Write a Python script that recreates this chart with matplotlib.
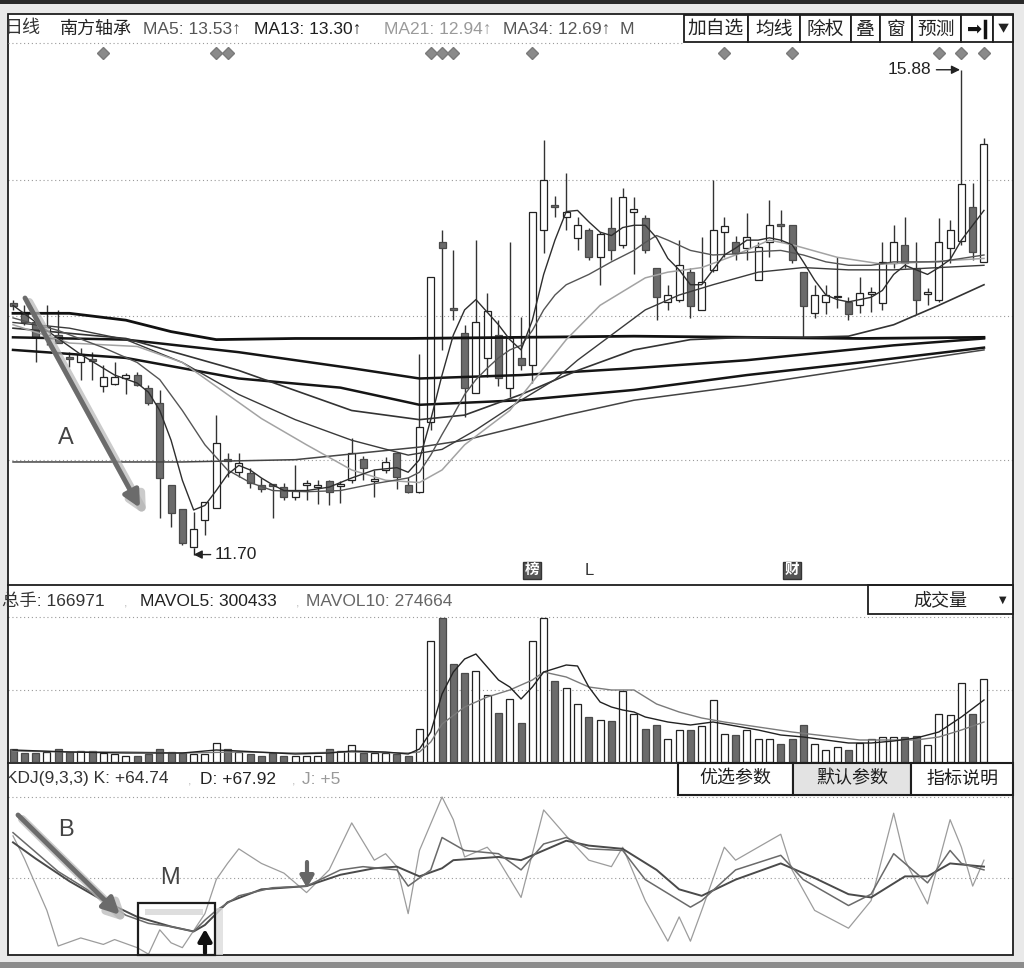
import numpy as np
import matplotlib.pyplot as plt
from matplotlib.patches import Rectangle
import matplotlib.patheffects as pe
import matplotlib.transforms as mtrans

plt.rcParams['font.family'] = ['Liberation Sans', 'Noto Sans CJK SC', 'DejaVu Sans']

W, H = 1024, 968

# daily candles (price, yuan)
opens = [13.84, 13.76, 13.67, 13.56, 13.56, 13.37, 13.32, 13.35, 13.11, 13.13,
         13.18, 13.21, 13.10, 12.97, 12.25, 12.04, 11.71, 11.94, 12.05, 12.48,
         12.36, 12.35, 12.25, 12.26, 12.23, 12.14, 12.25, 12.23, 12.28, 12.24,
         12.29, 12.48, 12.28, 12.38, 12.53, 12.25, 12.19, 12.80, 14.37, 13.80,
         13.58, 13.05, 13.36, 13.56, 13.10, 13.36, 13.30, 14.48, 14.70, 14.59,
         14.41, 14.48, 14.24, 14.50, 14.35, 14.64, 14.58, 14.15, 13.85, 13.87,
         14.11, 13.78, 14.13, 14.46, 14.37, 14.32, 14.04, 14.37, 14.53, 14.52,
         14.11, 13.75, 13.85, 13.89, 13.85, 13.82, 13.92, 13.84, 14.19, 14.35,
         14.15, 13.92, 13.87, 14.32, 14.38, 14.68, 14.20]
highs = [13.87, 13.82, 13.71, 13.82, 13.78, 13.41, 13.45, 13.41, 13.30, 13.32,
         13.23, 13.24, 13.12, 13.08, 12.25, 12.04, 12.01, 12.10, 12.86, 12.53,
         12.53, 12.40, 12.31, 12.26, 12.27, 12.42, 12.29, 12.29, 12.29, 12.28,
         12.66, 12.50, 12.38, 12.49, 12.53, 12.32, 13.39, 14.07, 14.48, 14.30,
         13.65, 14.39, 13.93, 13.69, 14.37, 13.72, 14.64, 15.27, 14.78, 14.98,
         14.59, 14.50, 14.46, 14.77, 14.85, 14.77, 14.61, 14.15, 14.00, 14.39,
         14.15, 14.42, 14.92, 14.59, 14.43, 14.63, 14.37, 14.74, 14.65, 14.52,
         14.11, 14.00, 14.00, 14.24, 13.89, 14.07, 13.98, 14.37, 14.52, 14.59,
         14.37, 13.97, 14.58, 14.57, 15.88, 14.89, 15.28]
lows = [13.78, 13.65, 13.32, 13.47, 13.49, 13.28, 13.17, 13.17, 13.06, 13.12,
        13.04, 13.11, 12.95, 11.96, 11.88, 11.72, 11.70, 11.81, 12.05, 12.32,
        12.32, 12.22, 12.19, 11.96, 12.12, 12.12, 12.12, 12.08, 12.07, 12.09,
        12.27, 12.29, 12.14, 12.35, 12.21, 12.18, 12.18, 12.73, 13.43, 13.69,
        12.84, 13.05, 13.19, 13.11, 13.02, 13.25, 13.14, 14.28, 14.59, 14.48,
        14.30, 14.22, 14.00, 14.22, 14.32, 14.09, 14.28, 13.69, 13.78, 13.85,
        13.71, 13.78, 14.11, 14.24, 14.22, 14.22, 14.04, 14.24, 14.37, 14.19,
        13.54, 13.71, 13.74, 13.80, 13.69, 13.75, 13.76, 13.78, 14.15, 14.15,
        13.74, 13.82, 13.85, 14.19, 14.35, 14.22, 14.20]
closes = [13.81, 13.67, 13.54, 13.63, 13.49, 13.35, 13.39, 13.33, 13.19, 13.19,
          13.21, 13.12, 12.97, 12.31, 12.00, 11.74, 11.86, 12.10, 12.62, 12.46,
          12.44, 12.27, 12.21, 12.24, 12.14, 12.20, 12.27, 12.25, 12.19, 12.26,
          12.53, 12.40, 12.30, 12.45, 12.32, 12.19, 12.76, 14.07, 14.32, 13.78,
          13.10, 13.67, 13.77, 13.18, 13.53, 13.30, 14.64, 14.92, 14.68, 14.64,
          14.52, 14.24, 14.44, 14.30, 14.77, 14.66, 14.30, 13.89, 13.91, 14.17,
          13.81, 14.02, 14.48, 14.51, 14.28, 14.42, 14.33, 14.52, 14.51, 14.22,
          13.81, 13.91, 13.91, 13.90, 13.74, 13.93, 13.94, 14.20, 14.37, 14.19,
          13.87, 13.94, 14.37, 14.48, 14.88, 14.29, 15.23]

# volume (hands)
volume = [26000, 18000, 18000, 20000, 26000, 20000, 22000, 22000, 18000, 16000,
          12000, 12000, 16000, 26000, 20000, 18000, 16000, 16000, 38000, 26000,
          20000, 16000, 12000, 18000, 12000, 12000, 12000, 12000, 26000, 22000,
          34000, 18000, 18000, 18000, 16000, 12000, 66000, 242000, 288000, 196000,
          178000, 182000, 134000, 98000, 126000, 78000, 242000, 288000, 162000, 148000,
          116000, 90000, 84000, 82000, 142000, 96000, 66000, 74000, 46000, 64000,
          64000, 72000, 124000, 56000, 54000, 64000, 46000, 46000, 36000, 46000,
          74000, 36000, 24000, 30000, 24000, 38000, 46000, 50000, 50000, 50000,
          52000, 34000, 96000, 94000, 158000, 96000, 166971]

# moving average lines: (candle index, value)
ma5_idx = [0, 3, 6, 9, 11, 12, 13, 14, 15, 16, 17, 18, 19, 20, 21, 22, 23, 24, 26, 28,
           30, 32, 34, 35, 36, 37, 38, 39, 40, 41, 42, 43, 44, 45, 46, 47, 48, 49, 50, 51,
           52, 53, 54, 55, 56, 57, 58, 59, 60, 61, 62, 63, 64, 65, 66, 67, 68, 69, 70, 71,
           72, 73, 74, 75, 76, 77, 78, 79, 80, 81, 82, 83, 84, 85, 86]
ma5_val = [13.82, 13.60, 13.39, 13.21, 13.14, 13.06, 12.90, 12.64, 12.29, 12.03,
           12.07, 12.20, 12.34, 12.42, 12.38, 12.31, 12.25, 12.20, 12.20, 12.23,
           12.31, 12.38, 12.40, 12.36, 12.47, 12.82, 13.21, 13.56, 13.78, 13.87,
           13.76, 13.65, 13.52, 13.43, 13.69, 14.09, 14.39, 14.64, 14.65, 14.55,
           14.46, 14.43, 14.50, 14.52, 14.52, 14.41, 14.23, 14.13, 14.00, 14.00,
           14.13, 14.26, 14.32, 14.39, 14.39, 14.41, 14.39, 14.35, 14.20, 14.04,
           13.91, 13.87, 13.85, 13.87, 13.89, 13.95, 14.09, 14.17, 14.13, 14.09,
           14.15, 14.22, 14.39, 14.52, 14.65]
ma13_idx = [0, 4, 8, 11, 13, 15, 17, 19, 21, 23, 26, 29, 32, 35, 36, 37, 38, 39, 40, 41,
            42, 43, 44, 45, 46, 47, 48, 49, 51, 53, 55, 56, 57, 58, 60, 62, 64, 66, 68, 70,
            72, 74, 76, 78, 80, 82, 84, 86]
ma13_val = [13.71, 13.60, 13.45, 13.32, 13.17, 12.90, 12.60, 12.38, 12.27, 12.20,
            12.19, 12.20, 12.26, 12.31, 12.36, 12.51, 12.69, 12.86, 13.04, 13.17,
            13.27, 13.36, 13.43, 13.47, 13.60, 13.78, 13.91, 14.00, 14.09, 14.20,
            14.30, 14.37, 14.43, 14.39, 14.30, 14.26, 14.27, 14.29, 14.30, 14.26,
            14.20, 14.17, 14.17, 14.20, 14.20, 14.20, 14.23, 14.26]
ma21_idx = [0, 5, 11, 15, 19, 22, 26, 30, 33, 36, 38, 40, 44, 49, 52, 56, 58, 61, 64, 67,
            69, 73, 77, 81, 86]
ma21_val = [13.65, 13.49, 13.46, 13.32, 13.04, 12.83, 12.60, 12.38, 12.29, 12.27,
            12.38, 12.60, 12.90, 13.52, 13.82, 14.06, 14.11, 14.15, 14.26, 14.39,
            14.35, 14.24, 14.18, 14.20, 14.23]
ma34_idx = [0, 5, 10, 15, 20, 25, 30, 35, 38, 41, 45, 48, 50, 53, 56, 59, 62, 66, 70, 74,
            78, 82, 86]
ma34_val = [13.67, 13.62, 13.52, 13.32, 13.04, 12.82, 12.64, 12.51, 12.56, 12.73,
            12.99, 13.17, 13.34, 13.56, 13.78, 13.91, 14.00, 14.11, 14.15, 14.13,
            14.13, 14.15, 14.17]
ma55_idx = [0, 10, 20, 30, 36, 40, 45, 50, 55, 60, 65, 70, 74, 78, 82, 86]
ma55_val = [13.62, 13.53, 13.25, 12.90, 12.82, 12.86, 13.04, 13.25, 13.43, 13.52,
            13.54, 13.54, 13.55, 13.65, 13.82, 14.00]
ma89_idx = [0, 5, 10, 14, 18, 25, 35, 45, 55, 65, 75, 86]
ma89_val = [13.75, 13.75, 13.69, 13.59, 13.52, 13.53, 13.53, 13.54, 13.55, 13.54, 13.53, 13.54]
ma120_idx = [0, 15, 25, 29, 36, 40, 49, 55, 65, 75, 86]
ma120_val = [12.45, 12.45, 12.47, 12.51, 12.58, 12.64, 12.86, 12.99, 13.12, 13.27, 13.43]
ma144_idx = [0, 10, 20, 30, 36, 45, 55, 65, 70, 78, 86]
ma144_val = [13.54, 13.52, 13.41, 13.27, 13.18, 13.21, 13.27, 13.34, 13.39, 13.47, 13.53]
ma250_idx = [0, 10, 20, 29, 36, 45, 55, 65, 75, 86]
ma250_val = [13.43, 13.36, 13.18, 13.10, 12.95, 12.99, 13.08, 13.21, 13.32, 13.45]

# volume averages
mavol5_idx = [0, 5, 10, 15, 18, 20, 25, 28, 30, 33, 35, 36, 37, 38, 39, 40, 41, 42, 43, 44,
              45, 46, 47, 49, 50, 51, 52, 53, 54, 55, 56, 58, 60, 62, 64, 66, 68, 70, 72, 74,
              76, 78, 80, 82, 84, 86]
mavol5_val = [24000, 20000, 18000, 18000, 24000, 22000, 16000, 18000, 22000, 20000,
              16000, 26000, 60000, 136000, 180000, 206000, 216000, 190000, 164000, 150000,
              126000, 150000, 180000, 194000, 192000, 150000, 120000, 110000, 104000, 100000,
              90000, 80000, 74000, 80000, 72000, 64000, 54000, 50000, 44000, 38000,
              38000, 42000, 48000, 60000, 90000, 124000]
mavol10_idx = [0, 5, 10, 15, 20, 25, 30, 35, 36, 37, 38, 40, 42, 44, 46, 47, 49, 51, 53, 55,
               56, 57, 59, 61, 63, 66, 69, 72, 75, 78, 80, 82, 84, 86]
mavol10_val = [22000, 20000, 20000, 18000, 20000, 18000, 20000, 18000, 20000, 40000,
               76000, 110000, 130000, 144000, 164000, 180000, 170000, 150000, 144000, 144000,
               130000, 116000, 100000, 88000, 80000, 70000, 60000, 52000, 44000, 44000,
               44000, 50000, 64000, 80000]

# KDJ(9,3,3)
k_idx = [0, 2, 4, 7, 10, 12, 14, 16, 17, 18, 20, 23, 26, 29, 31, 34, 35, 37, 38, 40,
         43, 45, 47, 49, 51, 54, 56, 60, 61, 64, 68, 70, 74, 76, 78, 80, 81, 83, 84, 86]
k_val = [78, 66, 54, 41, 27, 22, 20, 17, 24, 30, 39, 44, 45, 55, 57, 55, 45, 55, 75, 67,
         65, 55, 71, 75, 68, 67, 49, 32, 36, 55, 64, 49, 33, 40, 65, 53, 47, 67, 59, 55]
d_idx = [0, 2, 5, 8, 11, 14, 16, 17, 18, 19, 22, 26, 29, 32, 34, 36, 38, 39, 43, 45,
         47, 49, 51, 54, 57, 59, 61, 64, 68, 71, 74, 76, 79, 81, 83, 86]
d_val = [72, 62, 48, 36, 26, 20, 17, 21, 28, 35, 43, 45, 52, 56, 57, 51, 56, 61, 63, 61,
         67, 73, 70, 68, 55, 43, 39, 49, 59, 50, 40, 38, 51, 51, 59, 57]
j_idx = [0, 1, 3, 4, 6, 8, 9, 11, 12, 13, 14, 15, 17, 18, 19, 20, 22, 24, 26, 28,
         30, 32, 33, 34, 35, 36, 38, 39, 40, 42, 43, 45, 47, 49, 51, 53, 54, 56, 58, 59,
         60, 61, 63, 64, 66, 68, 69, 71, 74, 76, 78, 79, 81, 83, 84, 85, 86]
j_val = [76, 62, 30, 8, 13, 9, 12, 7, 3, 18, 10, 7, 28, 49, 59, 68, 59, 53, 41, 55,
         84, 61, 65, 57, 28, 67, 100, 86, 63, 69, 61, 38, 92, 76, 61, 57, 69, 36, 11, 26,
         11, 30, 69, 61, 69, 77, 55, 30, 19, 36, 90, 61, 34, 86, 69, 45, 61]

# info-mine markers and event badges
info_idx = [8, 18, 19, 37, 38, 39, 46, 63, 69, 82, 84, 86]
badge_idx = [46, 51, 69]
badge_txt = ['榜', 'L', '财']

price_grid = [12.47, 13.73, 14.92]
vol_grid = [144000, 290000]
kdj_grid = [50, 100]

GRID = dict(color='#9a9a9a', lw=0.8, ls=(0, (1, 2.5)))
FS = 12.5


def box(x0, y0, x1, y1):
    return [x0 / W, 1 - y1 / H, (x1 - x0) / W, (y1 - y0) / H]


fig = plt.figure(figsize=(W / 100, H / 100), dpi=100, facecolor='#e9e9e9')

ax_bg = fig.add_axes([0, 0, 1, 1], zorder=0)
ax_bg.set_xlim(0, W)
ax_bg.set_ylim(H, 0)
ax_bg.axis('off')
ax_bg.add_patch(Rectangle((0, 0), W, 4, fc='#2a2a2a', ec='none'))
ax_bg.add_patch(Rectangle((8, 14), 1005, 941, fc='white', ec='none'))
ax_bg.add_patch(Rectangle((0, 962), W, 6, fc='#8c8c8c', ec='none'))

xlim = (-0.443, 88.57)
ax_p = fig.add_axes(box(8, 43, 1013, 585), zorder=1)
ax_v = fig.add_axes(box(8, 614, 1013, 762), zorder=1)
ax_k = fig.add_axes(box(8, 795, 1013, 955), zorder=1)
for ax in (ax_p, ax_v, ax_k):
    ax.set_facecolor('none')
    ax.set_xlim(*xlim)
    ax.axis('off')
ax_p.set_ylim(11.374, 16.114)
ax_v.set_ylim(0, 296000)
ax_k.set_ylim(2.47, 101.23)

for g in price_grid:
    ax_p.axhline(g, zorder=1, **GRID)
for g in vol_grid:
    ax_v.axhline(g, zorder=1, **GRID)
for g in kdj_grid:
    ax_k.axhline(g, zorder=1, **GRID)

# candles
idx = np.arange(len(closes))
o = np.array(opens)
c = np.array(closes)
hi = np.array(highs)
lo = np.array(lows)
up = c >= o
body_lo = np.minimum(o, c)
body_h = np.maximum(np.abs(c - o), 0.012)
ax_p.vlines(idx, lo, hi, color='#333333', lw=1.0, zorder=3)
ax_p.bar(idx[up], body_h[up], bottom=body_lo[up], width=0.62,
         facecolor='white', edgecolor='#222222', lw=0.9, zorder=4)
ax_p.bar(idx[~up], body_h[~up], bottom=body_lo[~up], width=0.62,
         facecolor='#6b6b6b', edgecolor='#4a4a4a', lw=0.9, zorder=4)

# moving averages
ax_p.plot(ma250_idx, ma250_val, color='#151515', lw=1.8, zorder=5)
ax_p.plot(ma144_idx, ma144_val, color='#151515', lw=1.8, zorder=5)
ax_p.plot(ma89_idx, ma89_val, color='#111111', lw=2.0, zorder=5)
ax_p.plot(ma120_idx, ma120_val, color='#444444', lw=1.1, zorder=5)
ax_p.plot(ma55_idx, ma55_val, color='#333333', lw=1.2, zorder=5)
ax_p.plot(ma34_idx, ma34_val, color='#3a3a3a', lw=1.0, zorder=5)
ax_p.plot(ma21_idx, ma21_val, color='#a3a3a3', lw=1.1, zorder=5)
ax_p.plot(ma13_idx, ma13_val, color='#555555', lw=1.0, zorder=5)
ax_p.plot(ma5_idx, ma5_val, color='#2e2e2e', lw=1.0, zorder=5)

# info-mine diamonds along the top
top_tr = mtrans.blended_transform_factory(ax_p.transData, ax_p.transAxes)
ax_p.plot(info_idx, [0.982] * len(info_idx), 'D', ms=6, color='#8a8a8a',
          mec='#7a7a7a', transform=top_tr, clip_on=False, zorder=6)
for bi, bt in zip(badge_idx, badge_txt):
    if bt == 'L':
        ax_p.text(bi, 0.027, bt, transform=top_tr, ha='center', va='center',
                  fontsize=12, color='#333333')
    else:
        ax_p.text(bi, 0.027, bt, transform=top_tr, ha='center', va='center',
                  fontsize=10.5, color='white', fontweight='bold',
                  bbox=dict(boxstyle='square,pad=0.12', fc='#555555', ec='#333333'))

# high / low labels
ax_p.annotate('', xy=(84, highs[84]), xytext=(-25, 0), textcoords='offset pixels',
              arrowprops=dict(arrowstyle='-|>,head_length=0.5,head_width=0.25',
                              color='#222222', lw=1.0, shrinkA=0, shrinkB=1))
ax_p.annotate('15.88', xy=(84, highs[84]), xytext=(-74, 0), textcoords='offset pixels',
              ha='left', va='center', fontsize=FS, color='#222222')
ax_p.vlines(16, lows[16] - 0.06, lows[16], color='#222222', lw=1.0, zorder=3)
ax_p.annotate('', xy=(16, lows[16] - 0.06), xytext=(17, 0), textcoords='offset pixels',
              arrowprops=dict(arrowstyle='-|>,head_length=0.5,head_width=0.25',
                              color='#222222', lw=1.0, shrinkA=0, shrinkB=0))
ax_p.annotate('11.70', xy=(16, lows[16] - 0.06), xytext=(21, 0), textcoords='offset pixels',
              ha='left', va='center', fontsize=FS, color='#222222')

# volume bars
vol = np.array(volume)
ax_v.bar(idx[up], vol[up], width=0.62, facecolor='white', edgecolor='#222222', lw=0.9, zorder=3)
ax_v.bar(idx[~up], vol[~up], width=0.62, facecolor='#6b6b6b', edgecolor='#4a4a4a', lw=0.9, zorder=3)
ax_v.plot(mavol10_idx, mavol10_val, color='#7a7a7a', lw=1.0, zorder=4)
ax_v.plot(mavol5_idx, mavol5_val, color='#222222', lw=1.0, zorder=4)

# KDJ
ax_k.plot(j_idx, j_val, color='#9c9c9c', lw=0.9, zorder=3)
ax_k.plot(d_idx, d_val, color='#4a4a4a', lw=1.4, zorder=4)
ax_k.plot(k_idx, k_val, color='#6a6a6a', lw=1.1, zorder=4)

# ---- chrome, text and hand-drawn marks on a pixel overlay ----
ui = fig.add_axes([0, 0, 1, 1], zorder=10)
ui.set_xlim(0, W)
ui.set_ylim(H, 0)
ui.axis('off')
ui.set_facecolor('none')

EDGE = '#1e1e1e'
ui.add_patch(Rectangle((8, 14), 1005, 941, fc='none', ec=EDGE, lw=1.3))
ui.plot([8, 1013], [585, 585], color=EDGE, lw=1.3)
ui.plot([8, 1013], [763, 763], color=EDGE, lw=1.3)
ui.plot([8, 684], [43, 43], **GRID)

# price header
ui.text(5, 29, '日线', fontsize=13, va='center', color='#333333')
ui.text(60, 29, '南方轴承', fontsize=13, va='center', color='#222222')
ui.text(143, 29, 'MA5: 13.53↑', fontsize=FS, va='center', color='#555555')
ui.text(254, 29, 'MA13: 13.30↑', fontsize=FS, va='center', color='#1e1e1e')
ui.text(384, 29, 'MA21: 12.94↑', fontsize=FS, va='center', color='#9a9a9a')
ui.text(503, 29, 'MA34: 12.69↑  M', fontsize=FS, va='center', color='#555555')
buttons = [(684, 748, '加自选'), (748, 800, '均线'), (800, 851, '除权'), (851, 880, '叠'),
           (880, 912, '窗'), (912, 961, '预测'), (961, 993, ''), (993, 1013, '▼')]
for x0, x1, t in buttons:
    ui.add_patch(Rectangle((x0, 15), x1 - x0, 27, fc='white', ec=EDGE, lw=1.3))
    if t:
        fs = 8 if t == '▼' else 13.5
        ui.text((x0 + x1) / 2, 29, t, ha='center', va='center', fontsize=fs, color='#222222',
                family=['Noto Sans CJK SC', 'DejaVu Sans'])
ui.text(975, 29, '➡', ha='center', va='center', fontsize=13, color='#111111', family='DejaVu Sans')
ui.plot([985, 985], [21, 37], color='#111111', lw=2.5)

# volume header
ui.text(2, 601, '总手: 166971', fontsize=FS, va='center', color='#333333')
ui.text(124, 603, ',', fontsize=9, va='center', color='#bbbbbb')
ui.text(140, 601, 'MAVOL5: 300433', fontsize=FS, va='center', color='#222222')
ui.text(296, 603, ',', fontsize=9, va='center', color='#bbbbbb')
ui.text(306, 601, 'MAVOL10: 274664', fontsize=FS, va='center', color='#666666')
ui.add_patch(Rectangle((868, 585), 145, 29, fc='white', ec=EDGE, lw=1.3))
ui.text(940, 601, '成交量', ha='center', va='center', fontsize=13, color='#222222')
ui.text(1003, 600, '▼', ha='center', va='center', fontsize=7, color='#222222', family='DejaVu Sans')

# KDJ header
ui.text(6, 779, 'KDJ(9,3,3) K: +64.74', fontsize=FS, va='center', color='#333333')
ui.text(188, 781, ',', fontsize=9, va='center', color='#bbbbbb')
ui.text(200, 779, 'D: +67.92', fontsize=FS, va='center', color='#222222')
ui.text(292, 781, ',', fontsize=9, va='center', color='#bbbbbb')
ui.text(302, 779, 'J: +5', fontsize=FS, va='center', color='#999999')
kbtn = [(678, 793, '优选参数', 'white'), (793, 911, '默认参数', '#e3e3e3'),
        (911, 1013, '指标说明', 'white')]
for x0, x1, t, fc in kbtn:
    ui.add_patch(Rectangle((x0, 763), x1 - x0, 32, fc=fc, ec=EDGE, lw=1.5))
    ui.text((x0 + x1) / 2, 779, t, ha='center', va='center', fontsize=13, color='#1e1e1e')

# annotation arrows A / B with soft shadow
shadow = [pe.SimpleLineShadow(offset=(3, -3), shadow_color='#b5b5b5', alpha=0.7, linewidth=6),
          pe.Normal()]
arrow_kw = dict(arrowstyle='-|>,head_length=1.0,head_width=0.5', lw=3.5, color='#6b6b6b',
                shrinkA=0, shrinkB=0, path_effects=shadow)
ui.annotate('', xy=(140, 508), xytext=(25, 298), arrowprops=arrow_kw)
ui.annotate('', xy=(120, 915), xytext=(18, 815), arrowprops=arrow_kw)
ui.text(66, 438, 'A', ha='center', va='center', fontsize=17, color='#444444')
ui.text(66, 830, 'B', ha='center', va='center', fontsize=17, color='#444444')
ui.text(170, 878, 'M', ha='center', va='center', fontsize=17, color='#444444')

# M box
ui.add_patch(Rectangle((216, 908), 7, 47, fc='#dcdcdc', ec='none', alpha=0.8))
ui.add_patch(Rectangle((145, 909), 58, 6, fc='#d6d6d6', ec='none', alpha=0.8))
ui.add_patch(Rectangle((138, 903), 77, 52, fc='none', ec=EDGE, lw=1.6))
ui.annotate('', xy=(205, 929), xytext=(205, 953),
            arrowprops=dict(arrowstyle='-|>,head_length=0.7,head_width=0.4', lw=3,
                            color='#111111', shrinkA=0, shrinkB=0))
ui.annotate('', xy=(307, 888), xytext=(307, 862),
            arrowprops=dict(arrowstyle='-|>,head_length=0.7,head_width=0.4', lw=3,
                            color='#666666', shrinkA=0, shrinkB=0))

fig.savefig('out.png', dpi=100, facecolor=fig.get_facecolor())
